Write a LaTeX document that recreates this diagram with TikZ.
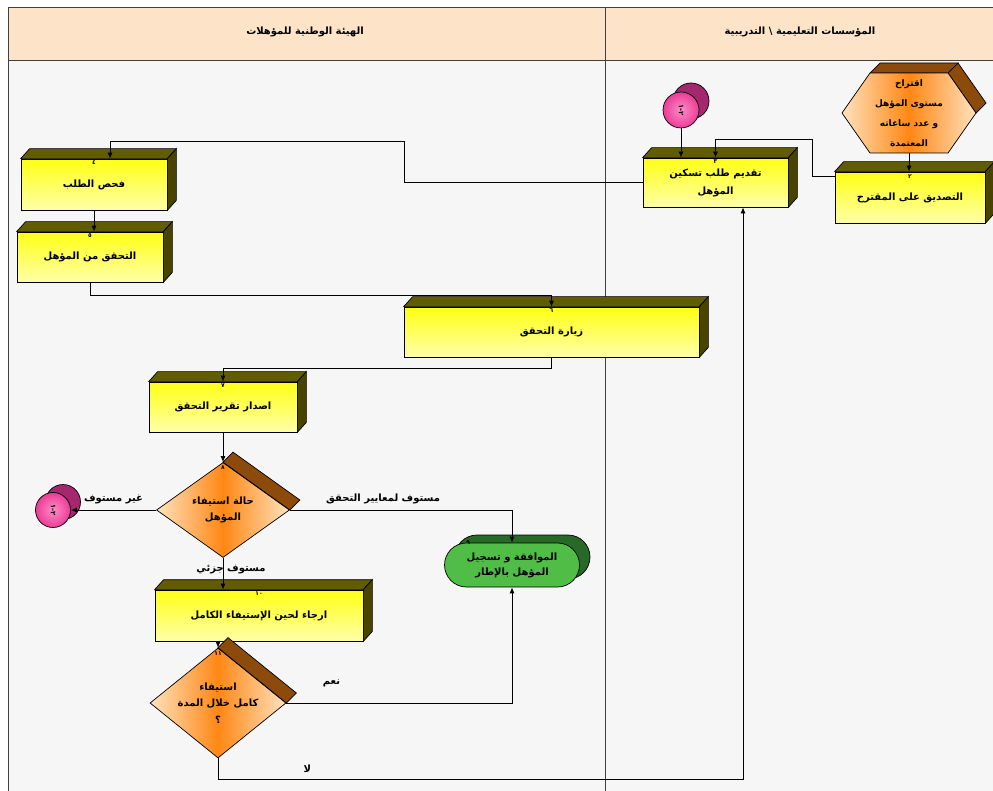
\documentclass[tikz,border=0pt]{standalone}
\usepackage{fontspec}
\newfontfamily\arabicfont[Script=Arabic]{DejaVu Sans}
\TeXXeTstate=1
\usetikzlibrary{shapes.geometric,shapes.misc,positioning,arrows.meta}
\definecolor{peach}{RGB}{253,228,200}
\definecolor{lanebg}{RGB}{246,246,246}
\definecolor{ylwA}{RGB}{255,255,20}
\definecolor{ylwB}{RGB}{255,255,170}
\definecolor{oliveA}{RGB}{98,92,0}
\definecolor{oliveB}{RGB}{72,68,0}
\definecolor{orgA}{RGB}{255,135,20}
\definecolor{orgB}{RGB}{255,226,190}
\definecolor{brwn}{RGB}{140,75,10}
\definecolor{grnA}{RGB}{80,190,70}
\definecolor{grnB}{RGB}{40,105,40}
\definecolor{pnkA}{RGB}{235,60,150}
\definecolor{pnkB}{RGB}{165,40,110}
\definecolor{pnkC}{RGB}{255,140,200}
\newcommand{\ar}[1]{{\arabicfont\bfseries\beginR #1\endR}}
\newcommand{\prism}[1]{%
  \filldraw[fill=oliveA] (#1.north west) -- ++(9,-10) -- ([shift={(9,-10)}]#1.north east) -- (#1.north east) -- cycle;
  \filldraw[fill=oliveB] (#1.north east) -- ([shift={(9,-10)}]#1.north east) -- ([shift={(9,-10)}]#1.south east) -- (#1.south east) -- cycle;}
\newcommand{\ridge}[1]{%
  \filldraw[fill=brwn] (#1.north) -- ++(10,-10) -- ([shift={(10,-10)}]#1.east) -- (#1.east) -- cycle;}
\tikzstyle{every node}=[inner sep=0pt,align=center,font=\fontsize{10}{18}\selectfont]
\tikzstyle{box}=[draw=black,shape=rectangle,top color=ylwA,bottom color=ylwB]
\tikzstyle{dia}=[draw=black,shape=diamond,aspect=1.3,left color=orgB,right color=orgB,middle color=orgA,font=\fontsize{10}{16.5}\selectfont]
\tikzstyle{term}=[draw=black,shape=rounded rectangle,fill=grnA,minimum width=135,minimum height=44,font=\fontsize{10}{15}\selectfont]
\tikzstyle{conn}=[draw=black,shape=circle,inner color=pnkC,outer color=pnkA,minimum size=36,rotate=-90]
\tikzstyle{num}=[font=\fontsize{6}{7}\selectfont]
\tikzstyle{flow}=[draw=black,line width=0.8pt,-{Latex[length=6pt,width=5pt]}]

\begin{document}
\begin{tikzpicture}[x=1pt,y=-1pt,line width=0.7pt]
	\useasboundingbox (0,0) rectangle (993,791);
	\clip (0,0) rectangle (993,791);
	\fill[white] (0,0) rectangle (993,791);
	\fill[lanebg] (8,60) rectangle (1000,800);
	\fill[peach] (8,7) rectangle (1000,60);
	\draw[line width=0.9pt,black!75] (8,800) -- (8,7) -- (1000,7) (8,60) -- (1000,60) (605,7) -- (605,800);
	\node (h1) at (305,32) {\ar{الهيئة الوطنية للمؤهلات}};
	\node (h2) at (800,32) {\ar{المؤسسات التعليمية \textbackslash{} التدريبية}};

	\filldraw[fill=brwn] (870,73) -- (880,63) -- (958,63) -- (948,73) -- cycle
		(948,73) -- (958,63) -- (986,103) -- (976,113) -- cycle;
	\filldraw[left color=orgB,right color=orgB,middle color=orgA]
		(842,113) -- (870,73) -- (948,73) -- (976,113) -- (948,153) -- (870,153) -- cycle;
	\node (n1) at (909,113) [minimum width=134,minimum height=80,font=\fontsize{9}{20}\selectfont]
		{\ar{اقتراح}\\\ar{مستوى المؤهل}\\\ar{و عدد ساعاته}\\\ar{المعتمدة}};

	\node (n2) at (910,197.5) [box,minimum width=150,minimum height=51] {\ar{التصديق على المقترح}};
	\node (n3) at (715.5,182.5) [box,minimum width=145,minimum height=49] {\ar{تقديم طلب تسكين}\\\ar{المؤهل}};
	\node (n4) at (94,184.5) [box,minimum width=146,minimum height=51] {\ar{فحص الطلب}};
	\node (n5) at (90,257) [box,minimum width=146,minimum height=50] {\ar{التحقق من المؤهل}};
	\node (n6) at (551.5,332) [box,minimum width=295,minimum height=50] {\ar{زيارة التحقق}};
	\node (n7) at (223,407) [box,minimum width=148,minimum height=50] {\ar{اصدار تقرير التحقق}};
	\node (n10) at (259,615.5) [box,minimum width=208,minimum height=51] {\ar{ارجاء لحين الإستيفاء الكامل}};
	\foreach \b in {n2,n3,n4,n5,n6,n7,n10} {\prism{\b}}

	\node (n8) at (223,510) [dia,minimum width=133,minimum height=95] {\ar{حالة استيفاء}\\\ar{المؤهل}};
	\node (n11) at (218,703) [dia,minimum width=136,minimum height=110] {\ar{استيفاء}\\\ar{كامل خلال المدة}\\\ar{؟}};
	\ridge{n8}
	\ridge{n11}

	\filldraw[fill=grnB,rounded corners=22] (455,535) rectangle (590,579);
	\node (n9) at (512,565) [term] {\ar{الموافقة و تسجيل}\\\ar{المؤهل بالإطار}};

	\filldraw[fill=pnkB] (691,101) circle[radius=18];
	\node (c1) at (681,110) [conn] {\fontsize{7}{8}\selectfont\ar{٢-١}};
	\filldraw[fill=pnkB] (63,502) circle[radius=17.5];
	\node (c2) at (53,510) [conn,minimum size=35] {\fontsize{7}{8}\selectfont\ar{٢-١}};

	\node[num] (k2) [below=3pt of n2.north] {\ar{٢}};
	\node[num] (k3) [below=2pt of n3.north] {\ar{٣}};
	\node[num] (k4) [below=2pt of n4.north] {\ar{٤}};
	\node[num] (k5) [below=2pt of n5.north] {\ar{٥}};
	\node[num] (k6) [below=2pt of n6.north] {\ar{٦}};
	\node[num] (k7) [below=2pt of n7.north] {\ar{٧}};
	\node[num] (k8) [below=3pt of n8.north] {\ar{٨}};
	\node[num] (k9) [left=-4pt of n9.north west] {\ar{٩}};
	\node[num] (k10) [below=2pt of n10.north] {\ar{١٠}};
	\node[num] (k11) [below=4pt of n11.north] {\ar{١١}};

	\draw[flow] (n1.south) -- (n1.south |- n2.north);
	\draw[flow] (c1.east) -- (c1.east |- n3.north);
	\draw[flow] ([yshift=21]n2.west) -- ++(-22,0) -- ++(0,-37) -| (n3.north);
	\draw[flow] (n3.west) -- ++(-238,0) -- ++(0,-41.5) -| ([xshift=16]n4.north);
	\draw[flow] (n4.south) -- (n4.south |- n5.north);
	\draw[flow] (n5.south) -- ++(0,13) -| (n6.north);
	\draw[flow] (n6.south) -- ++(0,11) -| (n7.north);
	\draw[flow] (n7.south) -- (n8.north);
	\draw[flow] (n8.west) -- node[above=6pt] {\ar{غير مستوف}} (n8.west -| c2.north);
	\draw[flow] (n8.east) -| node[pos=0.21,above=6pt] {\ar{مستوف لمعايير التحقق}} (n9.north);
	\draw[flow] (n8.south) -- node[pos=0.38,xshift=8] {\ar{مستوف جزئي}} (n8.south |- n10.north);
	\draw[flow] (n11.north |- n10.south) -- (n11.north);
	\draw[flow] (n11.east) -| node[pos=0.1,above=16pt] {\ar{نعم}} (n9.south);
	\draw[flow] (n11.south) -- ++(0,21) -| node[pos=0.085,above=6pt] {\ar{لا}} ([xshift=27.5]n3.south);
\end{tikzpicture}
\end{document}
